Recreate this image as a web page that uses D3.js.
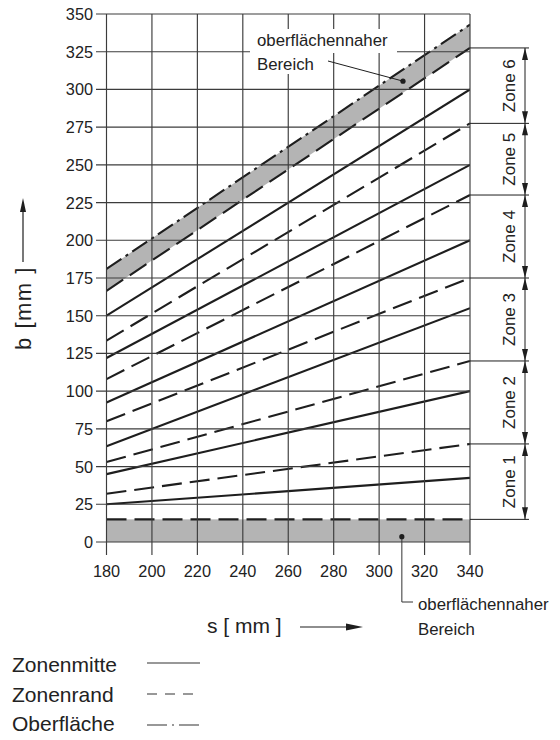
<!DOCTYPE html>
<html><head><meta charset="utf-8">
<script src="https://cdn.jsdelivr.net/npm/d3@7/dist/d3.min.js"></script>
<style>
html,body{margin:0;padding:0;background:#fff;}
svg{display:block;font-family:"Liberation Sans",Arial,sans-serif;}
</style></head>
<body>
<svg id="c" width="560" height="740"></svg>
<script>
// ---- data ----
const sRange = [180, 340];
const sTicks = [180, 200, 220, 240, 260, 280, 300, 320, 340];
const bTicks = [0, 25, 50, 75, 100, 125, 150, 175, 200, 225, 250, 275, 300, 325, 350];
// values of b at s = 180 and s = 340
const surfaceTop = [181, 343];      // Oberfläche (dash-dot)
const surfaceLow = [166.5, 327.5];  // lower edge of upper near-surface band
const zoneMid = [[25, 42.5], [45, 100], [63.5, 155], [92.5, 200], [122, 250], [150, 300]];
const zoneEdge = [[15, 15], [32, 65], [53, 120], [80, 175], [108, 230], [133.5, 277.5]];
const bottomBand = [0, 15];
const zoneNames = ["Zone 1", "Zone 2", "Zone 3", "Zone 4", "Zone 5", "Zone 6"];
const legendLabels = ["Zonenmitte", "Zonenrand", "Oberfläche"];
const annoText = ["oberflächennaher", "Bereich"];
const topDot = [310.5, 305.5];
const bottomDot = [310, 3.5];

// ---- setup ----
const svg = d3.select("#c");
const x = d3.scaleLinear().domain(sRange).range([106.5, 470]);
const y = d3.scaleLinear().domain([0, 350]).range([542, 14]);
const ink = "#1e1e1e", gridC = "#3c3c3c", band = "#b4b4b4";
const line = d3.line().x(d => x(d[0])).y(d => y(d[1]));
const seg = v => [[sRange[0], v[0]], [sRange[1], v[1]]];

svg.append("clipPath").attr("id", "plot").append("rect")
  .attr("x", x(180)).attr("y", y(350)).attr("width", x(340) - x(180)).attr("height", y(0) - y(350));
const plot = svg.append("g").attr("clip-path", "url(#plot)");

// bands
plot.append("path")
  .attr("d", d3.area().x(d => x(d[0])).y0(d => y(d[1])).y1(d => y(d[2]))(
    [[180, surfaceLow[0], surfaceTop[0]], [340, surfaceLow[1], surfaceTop[1]]]))
  .attr("fill", band);
plot.append("rect").attr("x", x(180)).attr("width", x(340) - x(180))
  .attr("y", y(bottomBand[1])).attr("height", y(bottomBand[0]) - y(bottomBand[1])).attr("fill", band);

// grid
const grid = svg.append("g").attr("stroke", gridC).attr("stroke-width", 1.15).attr("fill", "none");
bTicks.forEach(v => grid.append("line").attr("x1", 96).attr("x2", x(340)).attr("y1", y(v)).attr("y2", y(v)));
sTicks.forEach(v => grid.append("line").attr("y1", y(350)).attr("y2", 555).attr("x1", x(v)).attr("x2", x(v)));

// tick labels
svg.append("g").selectAll("text").data(bTicks).join("text")
  .attr("x", 93).attr("y", d => y(d) + 6).attr("text-anchor", "end")
  .attr("font-size", 16.3).attr("fill", "#222").text(d => d);
svg.append("g").selectAll("text").data(sTicks).join("text")
  .attr("x", d => x(d)).attr("y", 577).attr("text-anchor", "middle")
  .attr("font-size", 16.3).attr("fill", "#222").text(d => d);

// lines
const lw = 2.1;
zoneMid.forEach(v => plot.append("path").attr("d", line(seg(v))).attr("stroke", ink).attr("stroke-width", lw).attr("fill", "none"));
zoneEdge.forEach(v => plot.append("path").attr("d", line(seg(v))).attr("stroke", ink).attr("stroke-width", lw)
  .attr("stroke-dasharray", "20,8").attr("fill", "none"));
plot.append("path").attr("d", line(seg(surfaceLow))).attr("stroke", ink).attr("stroke-width", lw)
  .attr("stroke-dasharray", "20,8").attr("fill", "none");
plot.append("path").attr("d", line(seg(surfaceTop))).attr("stroke", ink).attr("stroke-width", lw)
  .attr("stroke-dasharray", "18,5,3,5").attr("fill", "none");

// zone annotation on the right
const bounds = zoneEdge.map(d => d[1]).concat([surfaceLow[1]]);
const za = svg.append("g");
const ax = 525;
bounds.forEach(v => za.append("line").attr("x1", x(340)).attr("x2", 529).attr("y1", y(v)).attr("y2", y(v))
  .attr("stroke", ink).attr("stroke-width", 1));
za.append("line").attr("x1", ax).attr("x2", ax).attr("y1", y(bounds[0])).attr("y2", y(bounds[bounds.length - 1]))
  .attr("stroke", ink).attr("stroke-width", 1);
function head(xp, yp, dir, len, hw) { // dir: -1 points up, 1 points down
  return `M${xp},${yp} L${xp - hw},${yp - dir * len} L${xp + hw},${yp - dir * len} Z`;
}
zoneNames.forEach((n, i) => {
  const y0 = y(bounds[i]), y1 = y(bounds[i + 1]);
  za.append("path").attr("d", head(ax, y0, 1, 12, 3)).attr("fill", ink);
  za.append("path").attr("d", head(ax, y1, -1, 12, 3)).attr("fill", ink);
  const cy = (y0 + y1) / 2;
  za.append("text").attr("transform", `translate(515,${cy}) rotate(-90)`).attr("text-anchor", "middle")
    .attr("font-size", 17).attr("fill", "#222").text(n);
});

// top annotation label with white backing
const ta = svg.append("g");
ta.append("rect").attr("x", 250).attr("y", 29).attr("width", 147).attr("height", 24).attr("fill", "#fff");
ta.append("rect").attr("x", 252).attr("y", 53).attr("width", 66).attr("height", 21).attr("fill", "#fff");
ta.append("text").attr("x", 257).attr("y", 46).attr("font-size", 16.8).attr("fill", "#222").text(annoText[0]);
ta.append("text").attr("x", 257).attr("y", 70).attr("font-size", 16.8).attr("fill", "#222").text(annoText[1]);
ta.append("line").attr("x1", 328).attr("y1", 61).attr("x2", x(topDot[0])).attr("y2", y(topDot[1]))
  .attr("stroke", ink).attr("stroke-width", 1);
ta.append("circle").attr("cx", x(topDot[0])).attr("cy", y(topDot[1])).attr("r", 2.6).attr("fill", ink);

// bottom annotation
const ba = svg.append("g");
ba.append("path").attr("d", `M${x(bottomDot[0])},${y(bottomDot[1])} V602 H413`).attr("stroke", "#333")
  .attr("stroke-width", 1).attr("fill", "none");
ba.append("circle").attr("cx", x(bottomDot[0])).attr("cy", y(bottomDot[1])).attr("r", 2.6).attr("fill", ink);
ba.append("text").attr("x", 418).attr("y", 610).attr("font-size", 16.8).attr("fill", "#222").text(annoText[0]);
ba.append("text").attr("x", 418).attr("y", 635).attr("font-size", 16.8).attr("fill", "#222").text(annoText[1]);

// axis titles
svg.append("text").attr("x", 207).attr("y", 633).attr("font-size", 21).attr("fill", "#222").text("s [ mm ]");
svg.append("line").attr("x1", 300).attr("x2", 350).attr("y1", 627).attr("y2", 627).attr("stroke", ink).attr("stroke-width", 1.2);
svg.append("path").attr("d", "M363,627 L346,623.5 L346,630.5 Z").attr("fill", ink);

svg.append("text").attr("transform", "translate(31,308) rotate(-90)").attr("text-anchor", "middle")
  .attr("font-size", 22).attr("letter-spacing", 1.5).attr("fill", "#222").text("b [mm ]");
svg.append("line").attr("x1", 23).attr("x2", 23).attr("y1", 262).attr("y2", 210).attr("stroke", ink).attr("stroke-width", 1.2);
svg.append("path").attr("d", "M23,198 L20,212 L26,212 Z").attr("fill", ink);

// legend
const lg = svg.append("g");
const lgBase = [672, 701.5, 731];
const lgLineY = [663, 694, 725];
const lgDash = [null, "10,8", "20,5,2,5"];
legendLabels.forEach((t, i) => {
  lg.append("text").attr("x", 12).attr("y", lgBase[i]).attr("font-size", 21).attr("fill", "#222").text(t);
  const l = lg.append("line").attr("x1", 147).attr("x2", 200).attr("y1", lgLineY[i]).attr("y2", lgLineY[i])
    .attr("stroke", "#333").attr("stroke-width", 1.2);
  if (lgDash[i]) l.attr("stroke-dasharray", lgDash[i]);
});
</script>
</body></html>
